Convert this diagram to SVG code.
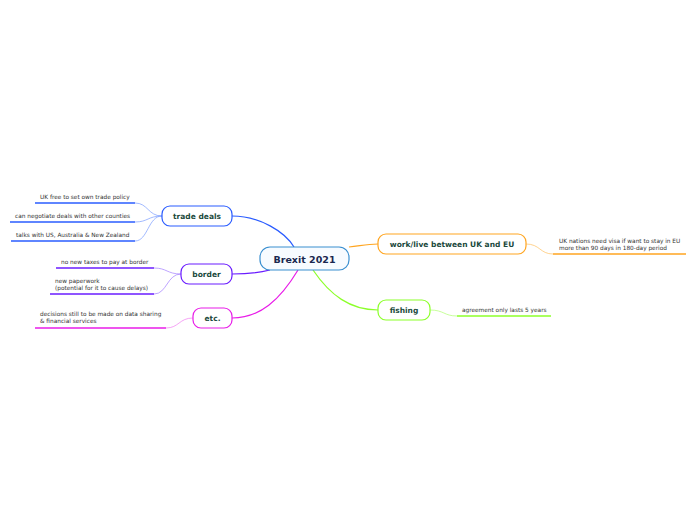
<svg xmlns="http://www.w3.org/2000/svg" width="696" height="520" viewBox="0 0 696 520">
<style>
.node{stroke-width:1.2}
.nt{font-family:"DejaVu Sans",Verdana,sans-serif;font-weight:bold;font-size:7.5px;fill:#1b4a3c;text-anchor:middle}
.lt{font-family:"DejaVu Sans",Verdana,sans-serif;font-size:5.8px;fill:#333}
.c{fill:none;stroke-width:1.2}
.lc{fill:none;stroke-width:0.7}
.u{stroke-width:1.6}
</style>
<rect width="696" height="520" fill="#fff"/>
<g id="connectors">
<path class="c" d="M294,247 C285,232 260,216 232,216" stroke="#2a5cff"/>
<path class="c" d="M270,270 C258,273 245,274 232,274" stroke="#6a1cff"/>
<path class="c" d="M298,270 C280,300 260,318 232,318" stroke="#e81ce8"/>
<path class="c" d="M349,247 C360,246 366,244 378,244" stroke="#ffa520"/>
<path class="c" d="M313,270 C330,295 350,310 378,310" stroke="#8cff2a"/>
<path class="lc" d="M162,216 C148,216 148,203 135,203" stroke="#7a9cff"/>
<path class="lc" d="M162,216 C148,216 148,222 135,222" stroke="#7a9cff"/>
<path class="lc" d="M162,216 C148,216 148,241 135,241" stroke="#7a9cff"/>
<path class="lc" d="M181,274 C167,274 167,268 154,268" stroke="#a27cff"/>
<path class="lc" d="M181,274 C167,274 167,294 154,294" stroke="#a27cff"/>
<path class="lc" d="M193,318 C179,318 179,328 166,328" stroke="#f07cf0"/>
<path class="lc" d="M526,244 C540,244 540,254 553,254" stroke="#ffc060"/>
<path class="lc" d="M430,310 C444,310 444,316 457,316" stroke="#b0ff70"/>
<line class="u" x1="35" y1="203" x2="135" y2="203" stroke="#2a5cff"/>
<line class="u" x1="10" y1="222" x2="135" y2="222" stroke="#2a5cff"/>
<line class="u" x1="11" y1="241" x2="135" y2="241" stroke="#2a5cff"/>
<line class="u" x1="56" y1="268" x2="154" y2="268" stroke="#6a1cff"/>
<line class="u" x1="50" y1="294" x2="154" y2="294" stroke="#6a1cff"/>
<line class="u" x1="35" y1="328" x2="166" y2="328" stroke="#e81ce8"/>
<line class="u" x1="553" y1="254" x2="686" y2="254" stroke="#ffa520"/>
<line class="u" x1="457" y1="316" x2="551" y2="316" stroke="#8cff2a"/>
</g>
<g id="central">
<rect x="260" y="247" width="89" height="23" rx="10" fill="#f7fbff" stroke="#3a8fd0" class="node"/>
<text x="304.5" y="262.5" text-anchor="middle" font-family="DejaVu Sans,Verdana,sans-serif" font-weight="bold" font-size="9.5" fill="#1a2850">Brexit 2021</text>
</g>
<g id="trade-deals">
<rect x="162" y="206" width="70" height="20" rx="8" fill="#fff" stroke="#2a5cff" class="node"/>
<text x="197" y="219" class="nt">trade deals</text>
</g>
<g id="border">
<rect x="181" y="264" width="51" height="20" rx="8" fill="#fff" stroke="#6a1cff" class="node"/>
<text x="206.5" y="277" class="nt">border</text>
</g>
<g id="etc">
<rect x="193" y="308" width="39" height="20" rx="8" fill="#fff" stroke="#e81ce8" class="node"/>
<text x="212.5" y="321" class="nt">etc.</text>
</g>
<g id="work-live">
<rect x="378" y="234" width="148" height="20" rx="8" fill="#fff" stroke="#ffa520" class="node"/>
<text x="452" y="247" class="nt">work/live between UK and EU</text>
</g>
<g id="fishing">
<rect x="378" y="300" width="52" height="20" rx="8" fill="#fff" stroke="#8cff2a" class="node"/>
<text x="404" y="313" class="nt">fishing</text>
</g>
<g id="leaf-trade-1"><text x="40" y="199" class="lt">UK free to set own trade policy</text></g>
<g id="leaf-trade-2"><text x="15" y="218" class="lt">can negotiate deals with other counties</text></g>
<g id="leaf-trade-3"><text x="16" y="237" class="lt">talks with US, Australia &amp; New Zealand</text></g>
<g id="leaf-border-1"><text x="61" y="264" class="lt">no new taxes to pay at border</text></g>
<g id="leaf-border-2"><text x="55" y="283" class="lt">new paperwork</text><text x="55" y="290" class="lt">(potential for it to cause delays)</text></g>
<g id="leaf-etc-1"><text x="40" y="316" class="lt">decisions still to be made on data sharing</text><text x="40" y="323" class="lt">&amp; financial services</text></g>
<g id="leaf-work-1"><text x="559" y="243" class="lt">UK nations need visa if want to stay in EU</text><text x="559" y="250" class="lt">more than 90 days in 180-day period</text></g>
<g id="leaf-fishing-1"><text x="462" y="312" class="lt">agreement only lasts 5 years</text></g>
</svg>
